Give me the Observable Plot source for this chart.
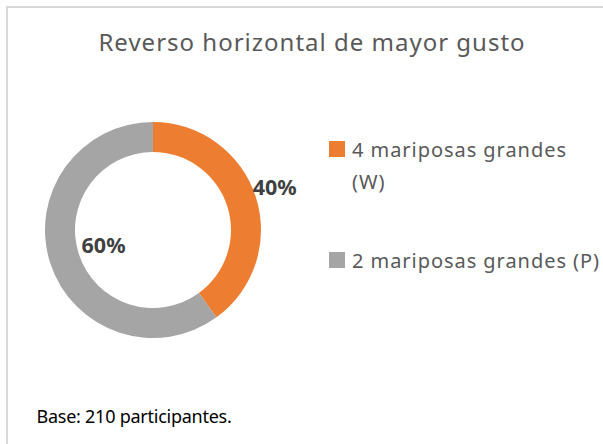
<!DOCTYPE html>
<html>
<head>
<meta charset="utf-8">
<script src="https://cdn.jsdelivr.net/npm/d3@7"></script>
<script src="https://cdn.jsdelivr.net/npm/@observablehq/plot@0.6"></script>
<style>
  html, body { margin: 0; padding: 0; background: #fff; }
  body { width: 603px; height: 444px; overflow: hidden; position: relative; font-family: "Noto Sans", sans-serif; }
  #frame { position: absolute; left: 6px; top: 6px; width: 640px; height: 480px;
           border-left: 2px solid #d9d9d9; border-top: 2px solid #d9d9d9; }
  #title { position: absolute; left: 0; top: 29.7px; width: 624px; text-align: center;
           font-size: 24px; line-height: 24px; letter-spacing: 1px; color: #595959; white-space: nowrap; }
  #chart { position: absolute; left: 3px; top: 80px; }
  .item { position: absolute; left: 329px; display: flex; align-items: flex-start; }
  .sw { width: 16px; height: 16px; margin-top: 7px; flex: none; }
  .lbl { margin-left: 7px; font-size: 20px; line-height: 32px; letter-spacing: 0.95px; color: #595959; }
  #caption { position: absolute; left: 36.5px; top: 407px; font-size: 18px; line-height: 18px;
             letter-spacing: -0.25px; color: #000; white-space: nowrap; }
</style>
</head>
<body>
<div id="frame"></div>
<div id="title"></div>
<div id="chart"></div>
<div id="legend"></div>
<div id="caption"></div>
<script>
// ---- data ----
const chartTitle = "Reverso horizontal de mayor gusto";
const captionText = "Base: 210 participantes.";
const categories = ["4 mariposas grandes (W)", "2 mariposas grandes (P)"];
const shares = [40, 60];
const shareLabels = ["40%", "60%"];
const sliceColors = ["#ED7D31", "#A5A5A5"];

const data = categories.map((name, i) => ({name, value: shares[i], label: shareLabels[i]}));

// ---- geometry / style ----
const W = 300, H = 300;
const innerR = 78, outerR = 108;
const labelRadius = [129, 52];
const labelNudge = [[-1, -3], [0, -1]];

const donut = Plot.plot({
  width: W, height: H, margin: 0,
  x: {domain: [0, 100], range: [0, 2 * Math.PI], axis: null},
  y: {axis: null},
  color: {domain: categories, range: sliceColors},
  marks: [
    Plot.barX(data, {
      ...Plot.stackX({x: "value", fill: "name"}),
      render(index, scales, values, dimensions) {
        const arc = d3.arc().innerRadius(innerR).outerRadius(outerR);
        const g = d3.create("svg:g")
          .attr("transform", `translate(${dimensions.width / 2},${dimensions.height / 2})`);
        g.selectAll("path").data(index).join("path")
          .attr("d", i => arc({startAngle: values.x1[i], endAngle: values.x2[i]}))
          .attr("fill", i => values.fill[i]);
        return g.node();
      }
    }),
    Plot.text(data, {
      ...Plot.stackX({x: "value", z: "name", text: "label"}),
      render(index, scales, values, dimensions) {
        const g = d3.create("svg:g")
          .attr("transform", `translate(${dimensions.width / 2},${dimensions.height / 2})`);
        g.selectAll("text").data(index).join("text")
          .attr("x", i => Math.sin(values.x[i]) * labelRadius[i] + labelNudge[i][0])
          .attr("y", i => -Math.cos(values.x[i]) * labelRadius[i] + labelNudge[i][1])
          .attr("dy", "0.36em")
          .attr("text-anchor", "middle")
          .attr("font-family", "'Noto Sans', sans-serif")
          .attr("font-weight", "bold")
          .attr("font-size", 21.5)
          .attr("fill", "#404040")
          .text(i => values.text[i]);
        return g.node();
      }
    })
  ]
});
document.getElementById("chart").appendChild(donut);

document.getElementById("title").textContent = chartTitle;
document.getElementById("caption").textContent = captionText;

// legend built from the same arrays
const legendTops = [134, 245];
const legendWidths = ["240px", "none"];
const legend = document.getElementById("legend");
categories.forEach((name, i) => {
  const item = document.createElement("div");
  item.className = "item";
  item.style.top = legendTops[i] + "px";
  const sw = document.createElement("div");
  sw.className = "sw";
  sw.style.background = sliceColors[i];
  const lbl = document.createElement("div");
  lbl.className = "lbl";
  lbl.textContent = name;
  if (i === 0) lbl.style.width = legendWidths[i];
  else lbl.style.whiteSpace = "nowrap";
  item.appendChild(sw);
  item.appendChild(lbl);
  legend.appendChild(item);
});
</script>
</body>
</html>
